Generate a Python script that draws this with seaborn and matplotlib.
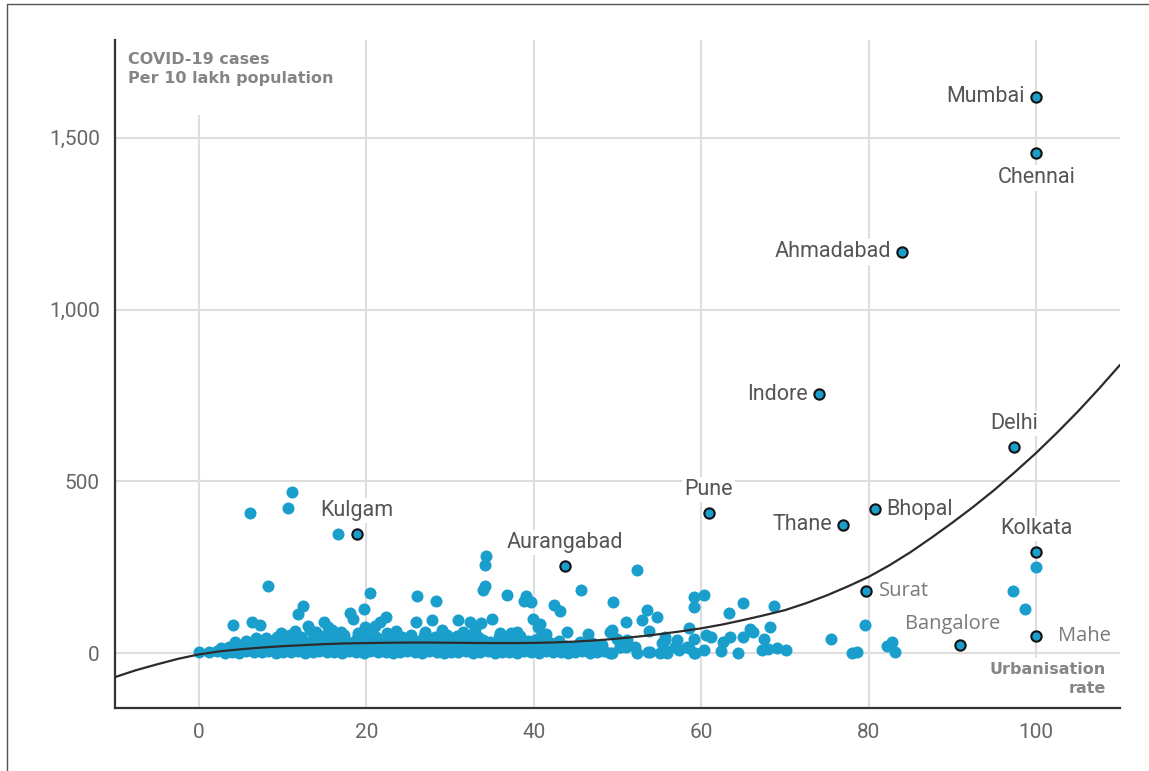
import matplotlib
matplotlib.use("Agg")
import matplotlib.pyplot as plt
from matplotlib.lines import Line2D
from matplotlib.patches import Rectangle
import seaborn as sns

sns.set_theme(style="white")
plt.rcParams["font.family"] = ["Roboto", "DejaVu Sans"]

# Named cities (urbanisation rate %, cases per 10 lakh)
city_names = ["Mumbai", "Chennai", "Ahmadabad", "Indore", "Delhi", "Pune", "Thane",
              "Bhopal", "Kulgam", "Aurangabad", "Kolkata", "Surat", "Bangalore", "Mahe"]
city_urban = [100.0, 100.0, 84.0, 74.0, 97.4, 60.9, 76.9, 80.8, 18.9, 43.7, 100.0, 79.7, 90.9, 100.0]
city_cases = [1620, 1456, 1168, 754, 600, 408, 373, 419, 347, 253, 294, 181, 23, 50]

# Dense band of districts near zero
band_urban = [
    0.0, 1.2, 2.2, 3.1, 4.0, 4.8, 5.7, 6.6, 7.5, 8.3, 9.2, 10.1, 11.0, 11.8, 12.7, 13.6, 14.4, 15.3, 16.2,
    17.1, 17.9, 18.8, 19.7, 20.5, 21.4, 22.3, 23.2, 24.0, 24.9, 25.8, 26.6, 27.5, 28.4, 29.3, 30.1, 31.0,
    31.9, 32.7, 33.6, 34.5, 35.4, 36.2, 37.1, 38.0, 38.8, 39.7, 40.6, 41.5, 42.3, 43.2, 44.1, 44.9, 45.8,
    46.7, 47.6, 48.4, 49.3,
    2.6, 3.6, 4.5, 5.4, 6.3, 7.2, 8.1, 8.9, 9.8, 10.7, 11.5, 12.4, 13.3, 14.2, 15.0, 15.9, 16.8, 17.6, 18.5,
    19.4, 20.3, 21.1, 22.0, 22.9, 23.8, 24.6, 25.5, 26.4, 27.2, 28.1, 29.0, 29.9, 30.7, 31.6, 32.5, 33.4,
    34.2, 35.1, 36.0, 36.9, 37.7, 38.6, 39.5, 40.4, 41.2, 42.1, 43.0, 43.9, 44.7, 45.6, 46.5, 47.4, 48.2, 50.3,
    4.3, 5.6, 6.9, 7.8, 8.7, 9.6, 10.5, 11.4, 12.3, 13.2, 14.1, 15.0, 15.9, 16.8, 17.7, 18.6, 19.5, 20.4,
    21.3, 22.2, 23.1, 24.0, 24.9, 25.8, 26.7, 27.6, 28.5, 29.4, 30.3, 31.2, 32.1, 33.0, 33.9, 34.8, 35.7,
    36.6, 37.5, 38.4, 39.3, 40.2, 41.1, 42.0, 43.0, 45.5, 47.0,
    6.8, 8.0, 9.3, 10.4, 12.2, 13.8, 14.9, 16.1, 17.4, 19.0, 20.1, 21.2, 23.0, 24.3, 25.4, 26.9, 28.2,
    29.6, 30.8, 32.0, 33.3, 35.8, 37.0, 38.4, 40.6,
    9.8, 14.0, 17.0, 23.5, 27.0, 29.0, 31.5, 33.0, 36.0, 38.0, 41.5, 44.0, 46.5,
]
band_cases = [
    3, 2, 5, 1, 4, 0, 6, 2, 3, 5, 1, 4, 2, 6, 0, 3, 5, 2, 4, 1, 6, 3, 0, 5, 2, 4, 1, 3, 6, 2, 0, 5, 3, 1, 4,
    2, 6, 0, 3, 5, 1, 4, 2, 0, 6, 3, 1, 5, 2, 4, 0, 3, 6, 1, 2, 5, 0,
    14, 17, 20, 16, 19, 22, 15, 18, 21, 17, 20, 16, 19, 22, 18, 15, 21, 17, 20, 16, 22, 19, 15, 18, 21, 17,
    20, 16, 19, 22, 18, 15, 21, 17, 20, 16, 19, 22, 15, 18, 21, 17, 20, 16, 19, 15, 18, 21, 17, 20, 16, 19, 22, 18,
    33, 36, 38, 32, 35, 37, 31, 34, 38, 33, 36, 32, 35, 38, 31, 34, 37, 33, 36, 32, 35, 38, 31, 34, 37, 33,
    36, 32, 35, 38, 31, 34, 37, 33, 36, 32, 35, 31, 34, 37, 33, 30, 35, 32, 30,
    45, 43, 48, 50, 47, 52, 49, 46, 53, 50, 55, 48, 51, 47, 54, 50, 46, 53, 49, 52, 48, 47, 44, 50, 43,
    58, 62, 60, 64, 60, 66, 62, 70, 58, 62, 55, 60, 56,
]

# Scattered districts above the band and to the right
other_urban = [
    6.1, 10.6, 11.1, 16.6, 8.3, 4.1, 6.3, 7.3, 12.5, 11.9, 13.1, 13.3, 14.9, 15.4, 15.9, 10.9, 11.5, 18.0,
    18.4, 19.7, 20.4, 22.3, 21.7, 21.0, 19.8, 20.0, 19.0, 22.5,
    26.1, 28.3, 25.9, 27.8, 30.9, 32.4, 33.7, 34.3, 34.2, 34.2, 33.9, 35.0, 36.8, 39.1, 38.8, 39.7, 42.4,
    43.1, 45.7, 49.5, 52.3, 39.9, 40.7, 40.5, 37.3,
    53.5, 52.9, 54.7, 51.0, 49.3, 53.8, 59.1, 59.1, 60.3, 58.5, 59.1, 60.6, 61.2, 63.3, 65.0, 68.7, 68.2,
    65.8, 66.2, 65.0, 63.4, 62.6, 62.4, 67.5, 64.4, 67.2, 68.0, 69.0, 70.1, 60.3, 59.3, 58.3, 57.1, 57.3,
    55.7, 55.7, 55.3, 55.9, 55.1, 53.9, 52.3, 52.1, 51.1, 49.9, 49.1, 50.3, 51.0, 49.1, 56.9, 58.5, 59.1,
    55.7, 53.7,
    75.5, 78.0, 78.6, 79.5, 82.2, 82.8, 83.1, 97.2, 98.6, 100.0,
]
other_cases = [
    407, 423, 468, 346, 196, 82, 91, 82, 138, 113, 80, 67, 91, 77, 67, 52, 65, 118,
    100, 128, 174, 106, 89, 80, 76, 67, 57, 58,
    166, 152, 89, 96, 96, 90, 88, 283, 256, 196, 185, 98, 170, 167, 151, 150, 141,
    121, 184, 148, 242, 99, 86, 76, 57,
    124, 96, 105, 91, 66, 65, 164, 135, 168, 72, 42, 53, 47, 118, 147, 137, 77,
    69, 62, 48, 48, 33, 7, 41, 1, 9, 11, 14, 9, 9, 1, 18, 38, 9,
    38, 48, 28, 1, 0, 2, 1, 18, 38, 42, 62, 18, 17, 0, 18, 14, 0,
    9, 4,
    42, 1, 4, 82, 21, 33, 4, 181, 128, 250,
]

# Trend curve
trend_urban = [-10, -7.5, -5, -2.5, 0, 2.5, 5, 7.5, 10, 12.5, 15, 17.5, 20, 22.5, 25, 27.5, 30, 32.5,
               35, 37.5, 40, 42.5, 45, 47.5, 50, 52.5, 55, 57.5, 60, 62.5, 65, 67.5, 70, 72.5, 75, 77.5,
               80, 82.5, 85, 87.5, 90, 92.5, 95, 97.5, 100, 102.5, 105, 107.5, 110]
trend_cases = [-70, -50, -33, -17, -4, 5, 11, 16, 20, 23, 26, 28, 29, 30, 30.5, 30.5, 30, 29.5,
               29, 29, 29.5, 31, 33.5, 37, 42, 48, 55, 63, 72, 83, 96, 110, 125, 145, 168, 194,
               222, 256, 294, 336, 380, 426, 475, 528, 583, 642, 704, 770, 839]

x_ticks = [0, 20, 40, 60, 80, 100]
y_ticks = [0, 500, 1000, 1500]
y_tick_labels = ["0", "500", "1,000", "1,500"]

dot = "#1a9fcd"
label_grey = "#555555"
note_grey = "#858585"

fig = plt.figure(figsize=(11.49, 7.71), dpi=100)
ax = fig.add_axes([115 / 1149, 63 / 771, 1005 / 1149, 668 / 771])

sns.scatterplot(x=band_urban, y=band_cases, color=dot, s=75, linewidth=0, ax=ax, zorder=3)
sns.scatterplot(x=other_urban, y=other_cases, color=dot, s=75, linewidth=0, ax=ax, zorder=3)
sns.lineplot(x=trend_urban, y=trend_cases, color="#2b2b2b", linewidth=1.6, ax=ax, zorder=4)
sns.scatterplot(x=city_urban, y=city_cases, color=dot, s=55, edgecolor="#111111",
                linewidth=1.5, ax=ax, zorder=5)

ax.set_xlim(-10, 110)
ax.set_ylim(-160, 1785)
ax.set_xticks(x_ticks)
ax.set_xticklabels([str(t) for t in x_ticks])
ax.set_yticks(y_ticks)
ax.set_yticklabels(y_tick_labels)
ax.tick_params(length=0, labelsize=15, labelcolor="#666666")
ax.tick_params(axis="x", pad=11)
ax.tick_params(axis="y", pad=11)
ax.grid(True, color="#dedede", linewidth=1.5)
ax.set_axisbelow(True)
for side in ["top", "right"]:
    ax.spines[side].set_visible(False)
for side in ["left", "bottom"]:
    ax.spines[side].set_color("#333333")
    ax.spines[side].set_linewidth(1.6)

# label placement: (dx, dy) in points, ha, small font, white box
placement = {
    "Mumbai": (-8, 0, "right", False, True),
    "Chennai": (0, -18, "center", False, True),
    "Ahmadabad": (-8, 0, "right", False, True),
    "Indore": (-8, 0, "right", False, True),
    "Delhi": (0, 17, "center", False, True),
    "Pune": (0, 17, "center", False, True),
    "Thane": (-8, 0, "right", False, False),
    "Bhopal": (8, 0, "left", False, False),
    "Kulgam": (0, 17, "center", False, True),
    "Aurangabad": (0, 17, "center", False, True),
    "Kolkata": (0, 17, "center", False, True),
    "Surat": (9, 0, "left", True, False),
    "Bangalore": (-5, 15, "center", True, True),
    "Mahe": (16, 0, "left", True, True),
}
for name, ux, cy in zip(city_names, city_urban, city_cases):
    dx, dy, ha, small, boxed = placement[name]
    if small:
        font = dict(family=["Open Sans", "DejaVu Sans"], fontsize=14.5, color="#7a7a7a")
    else:
        font = dict(family=["Roboto", "DejaVu Sans"], fontsize=15.5, color=label_grey)
    box = dict(boxstyle="square,pad=0.1", facecolor="white", edgecolor="none") if boxed else None
    ax.annotate(name, (ux, cy), xytext=(dx, dy), textcoords="offset points",
                ha=ha, va="center", zorder=6, bbox=box, **font)

# white masks behind the two axis notes
ax.add_patch(Rectangle((13 / 1005, (708 - 115) / 668), 225 / 1005, 80 / 668,
                       transform=ax.transAxes, facecolor="white", edgecolor="none", zorder=1))
ax.add_patch(Rectangle((875 / 1005, 0), 130 / 1005, 50 / 668,
                       transform=ax.transAxes, facecolor="white", edgecolor="none", zorder=1))

ax.text(13 / 1005, 1 - 12 / 668, "COVID-19 cases\nPer 10 lakh population", transform=ax.transAxes,
        ha="left", va="top", fontsize=11.5, fontweight="bold", color=note_grey,
        family=["DejaVu Sans"], linespacing=1.3, zorder=6)
ax.text(991 / 1005, 46 / 668, "Urbanisation\nrate", transform=ax.transAxes,
        ha="right", va="top", fontsize=11.5, fontweight="bold", color=note_grey,
        family=["DejaVu Sans"], linespacing=1.3, multialignment="right", zorder=6)

# thin outer frame on the left and top
fig.add_artist(Line2D([7 / 1149, 7 / 1149], [0, 1 - 4 / 771], transform=fig.transFigure,
                      color="#555555", linewidth=1))
fig.add_artist(Line2D([7 / 1149, 1], [1 - 4 / 771, 1 - 4 / 771], transform=fig.transFigure,
                      color="#555555", linewidth=1))

fig.savefig("out.png", dpi=100)
